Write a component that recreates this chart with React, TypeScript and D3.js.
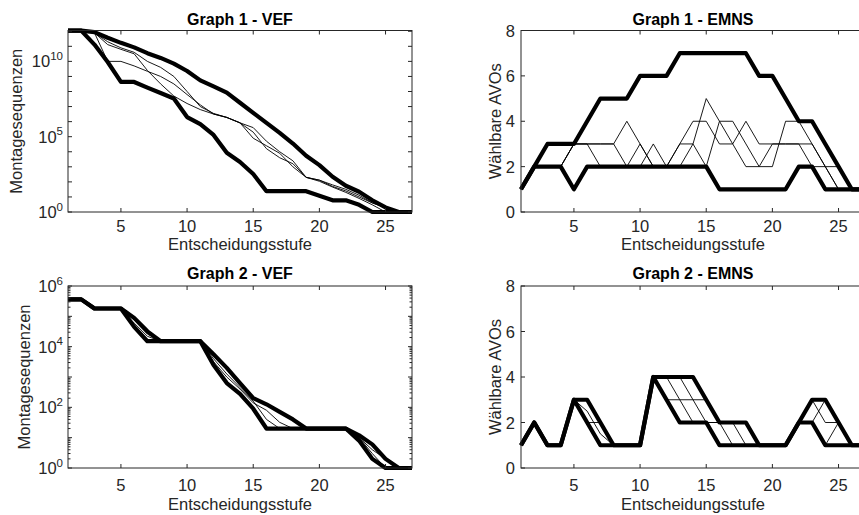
import * as d3 from "d3";

// Entscheidungsstufen (x)
const stufen = [1, 2, 3, 4, 5, 6, 7, 8, 9, 10, 11, 12, 13, 14, 15, 16, 17, 18, 19, 20, 21, 22, 23, 24, 25, 26, 27];
const xTicks = [5, 10, 15, 20, 25];

// Graph 1 - VEF (Montagesequenzen)
const vef1Max = [1.1e12, 1.1e12, 8.7e11, 3.7e11, 1.7e11, 8.5e10, 3.5e10, 1.7e10, 7.1e9, 2.3e9, 5.5e8, 2.2e8, 8.5e7, 1.8e7, 3.8e6, 8.3e5, 1.8e5, 3.5e4, 5400, 1300, 220, 55, 22, 6, 2, 1, 1];
const vef1Min = [1.1e12, 1.1e12, 1.3e11, 9.1e9, 4.3e8, 4.3e8, 1.8e8, 7.9e7, 3.4e7, 2.0e6, 6.8e5, 1.3e5, 8500, 2100, 330, 24, 24, 24, 24, 12, 6, 6, 3, 1, 1, 1, 1];
const vef1A = [1.1e12, 1.1e12, 7.9e11, 1.3e11, 6.3e10, 3.2e10, 2.5e9, 3.2e8, 5.0e7, 1.6e7, 6.3e6, 3.2e6, 1.9e6, 8.3e5, 7.9e4, 2.5e4, 7900, 1000, 200, 130, 50, 25, 10, 4, 2, 1, 1];
const vef1B = [1.1e12, 1.1e12, 7.9e11, 2.0e11, 7.9e10, 4.0e10, 1.0e10, 4.0e9, 1.0e9, 1.0e8, 1.0e7, 3.5e6, 1.9e6, 8.3e5, 4.0e5, 5.0e4, 1.0e4, 2500, 200, 130, 63, 32, 13, 4, 2, 1, 1];
const vef1C = [1.1e12, 1.1e12, 7.9e11, 1.0e10, 1.0e10, 5.0e9, 2.2e9, 1.0e9, 3.2e8, 6.3e7, 1.3e7, 3.2e6, 1.9e6, 8.3e5, 2.0e5, 1.6e4, 4000, 1600, 200, 110, 45, 20, 8, 3, 1, 1, 1];

// Graph 1 - EMNS (Waehlbare AVOs)
const emns1Max = [1, 2, 3, 3, 3, 4, 5, 5, 5, 6, 6, 6, 7, 7, 7, 7, 7, 7, 6, 6, 5, 4, 4, 3, 2, 1, 1];
const emns1Min = [1, 2, 2, 2, 1, 2, 2, 2, 2, 2, 2, 2, 2, 2, 2, 1, 1, 1, 1, 1, 1, 2, 2, 1, 1, 1, 1];
const emns1A = [1, 2, 2, 2, 3, 3, 2, 2, 2, 3, 2, 2, 3, 4, 4, 3, 3, 4, 3, 3, 3, 3, 2, 2, 2, 1, 1];
const emns1B = [1, 2, 2, 2, 3, 3, 3, 3, 4, 3, 2, 2, 2, 3, 5, 4, 3, 2, 2, 3, 3, 3, 3, 2, 1, 1, 1];
const emns1C = [1, 2, 2, 2, 3, 3, 3, 3, 2, 2, 3, 2, 3, 3, 2, 4, 4, 3, 2, 2, 4, 4, 3, 2, 1, 1, 1];

// Graph 2 - VEF
const vef2Max = [362880, 362880, 181440, 181440, 181440, 89000, 32000, 15120, 15120, 15120, 15120, 5600, 2000, 630, 200, 126, 71, 40, 20, 20, 20, 20, 12, 6, 2, 1, 1];
const vef2Min = [362880, 362880, 181440, 181440, 181440, 45000, 15120, 15120, 15120, 15120, 15120, 2500, 630, 280, 90, 20, 20, 20, 20, 20, 20, 20, 8, 2, 1, 1, 1];
const vef2A = [362880, 362880, 181440, 181440, 181440, 60000, 22000, 15120, 15120, 15120, 15120, 4000, 1260, 450, 160, 40, 20, 20, 20, 20, 20, 20, 10, 3, 1, 1, 1];
const vef2B = [362880, 362880, 181440, 181440, 181440, 75000, 26000, 15120, 15120, 15120, 15120, 3200, 1000, 400, 140, 80, 32, 20, 20, 20, 20, 20, 10, 4, 2, 1, 1];

// Graph 2 - EMNS
const emns2Max = [1, 2, 1, 1, 3, 3, 2, 1, 1, 1, 4, 4, 4, 4, 3, 2, 2, 2, 1, 1, 1, 2, 3, 3, 2, 1, 1];
const emns2Min = [1, 2, 1, 1, 3, 2, 1, 1, 1, 1, 4, 3, 2, 2, 2, 1, 1, 1, 1, 1, 1, 2, 2, 1, 1, 1, 1];
const emns2A = [1, 2, 1, 1, 3, 2, 2, 1, 1, 1, 4, 4, 3, 2, 2, 2, 1, 1, 1, 1, 1, 2, 3, 2, 2, 1, 1];
const emns2B = [1, 2, 1, 1, 3, 2.5, 1.5, 1, 1, 1, 4, 4, 4, 3, 2, 2, 2, 1, 1, 1, 1, 2, 2, 3, 2, 1, 1];
const emns2C = [1, 2, 1, 1, 3, 3, 2, 1, 1, 1, 4, 3, 3, 3, 3, 2, 2, 2, 1, 1, 1, 2, 2, 1, 2, 1, 1];

const emnsTicks = [0, 2, 4, 6, 8];
const vef1Labels = [0, 5, 10];
const vef1Decades = [0, 1, 2, 3, 4, 5, 6, 7, 8, 9, 10, 11, 12];
const vef2Labels = [0, 2, 4, 6];
const vef2Decades = [0, 1, 2, 3, 4, 5, 6];

const FONT = "'Liberation Sans', Arial, Helvetica, sans-serif";
const AX = "#262626";
const W = 859;
const H = 515;

type Layout = {left: number; top: number; w: number; h: number; tickBase: number; labelBase: number; titleBase: number; ylabX: number};

function Panel({lay, title, ylabel, log, yMax, lines, thin, decades, expLabels}: any) {
    const {left, top, w, h} = lay as Layout;
    const bottom = top + h;
    const right = left + w;
    const x = d3.scaleLinear().domain([1, 27]).range([left, right]);
    const y = log
        ? d3.scaleLog().domain([1, yMax]).range([bottom, top])
        : d3.scaleLinear().domain([0, 8]).range([bottom, top]);
    const line = d3.line<number>().x((_, i) => x(stufen[i])).y(v => y(v));
    const tl = 4;

    // y ticks
    let yt: {v: number; len: number}[] = [];
    if (log) {
        decades.forEach((e: number) => {
            yt.push({v: Math.pow(10, e), len: tl});
            if (decades.length < 10 && e < decades[decades.length - 1]) {
                for (let m = 2; m <= 9; m++) yt.push({v: m * Math.pow(10, e), len: 2.5});
            }
        });
        yt = yt.filter(t => t.v <= yMax);
    } else {
        yt = emnsTicks.map(v => ({v, len: tl}));
    }

    return (
        <g>
            <text x={(left + right) / 2} y={lay.titleBase} textAnchor="middle" fontWeight="bold"
                  fontSize={16} fill="#000">{title}</text>
            {thin.map((s: number[], i: number) =>
                <path key={"t" + i} d={line(s) || ""} fill="none" stroke="#000" strokeWidth={0.9}/>
            )}
            {lines.map((s: number[], i: number) =>
                <path key={"k" + i} d={line(s) || ""} fill="none" stroke="#000" strokeWidth={4.2}
                      strokeLinejoin="round"/>
            )}
            <rect x={left} y={top} width={w} height={h} fill="none" stroke={AX} strokeWidth={1}/>
            {xTicks.map(t =>
                <g key={"x" + t}>
                    <line x1={x(t)} x2={x(t)} y1={bottom} y2={bottom - tl} stroke={AX}/>
                    <line x1={x(t)} x2={x(t)} y1={top} y2={top + tl} stroke={AX}/>
                    <text x={x(t)} y={lay.tickBase} textAnchor="middle" fontSize={16.5} fill={AX}>{t}</text>
                </g>
            )}
            {yt.map((t, i) =>
                <g key={"y" + i}>
                    <line x1={left} x2={left + t.len} y1={y(t.v)} y2={y(t.v)} stroke={AX}/>
                    <line x1={right} x2={right - t.len} y1={y(t.v)} y2={y(t.v)} stroke={AX}/>
                </g>
            )}
            {log ? expLabels.map((e: number) =>
                <text key={"l" + e} x={left - 5} y={y(Math.pow(10, e)) + 6} textAnchor="end" fontSize={16.5} fill={AX}>
                    <tspan>10</tspan>
                    <tspan dy={-7.5} fontSize={11.5}>{e}</tspan>
                </text>
            ) : emnsTicks.map(v =>
                <text key={"l" + v} x={left - 6} y={y(v) + 6} textAnchor="end" fontSize={16.5} fill={AX}>{v}</text>
            )}
            <text x={(left + right) / 2} y={lay.labelBase} textAnchor="middle" fontSize={16.5}
                  fill={AX}>Entscheidungsstufe</text>
            <text transform={`translate(${lay.ylabX},${(top + bottom) / 2}) rotate(-90)`} textAnchor="middle"
                  fontSize={16.5} fill={AX}>{ylabel}</text>
        </g>
    );
}

export default function App() {
    const topL = {left: 68, top: 30.5, w: 344, h: 181.5, tickBase: 232, labelBase: 250, titleBase: 24.5, ylabX: 22};
    const topR = {...topL, left: 521, ylabX: 501};
    const botL = {left: 68, top: 286, w: 344, h: 182, tickBase: 491, labelBase: 509.5, titleBase: 279, ylabX: 29.5};
    const botR = {...botL, left: 521, ylabX: 501};

    const vef1Top = d3.max([vef1Max, vef1Min, vef1A, vef1B, vef1C].flat()) as number;

    return (
        <svg width={W} height={H} style={{display: "block", position: "absolute", left: 0, top: 0, fontFamily: FONT}}>
            <rect width={W} height={H} fill="#fff"/>
            <Panel lay={topL} title="Graph 1 - VEF" ylabel="Montagesequenzen" log yMax={vef1Top * 1.02}
                   lines={[vef1Max, vef1Min]} thin={[vef1A, vef1B, vef1C]}
                   decades={vef1Decades} expLabels={vef1Labels}/>
            <Panel lay={topR} title="Graph 1 - EMNS" ylabel="Wählbare AVOs"
                   lines={[emns1Max, emns1Min]} thin={[emns1A, emns1B, emns1C]}/>
            <Panel lay={botL} title="Graph 2 - VEF" ylabel="Montagesequenzen" log yMax={1e6}
                   lines={[vef2Max, vef2Min]} thin={[vef2A, vef2B]}
                   decades={vef2Decades} expLabels={vef2Labels}/>
            <Panel lay={botR} title="Graph 2 - EMNS" ylabel="Wählbare AVOs"
                   lines={[emns2Max, emns2Min]} thin={[emns2A, emns2B, emns2C]}/>
        </svg>
    );
}
